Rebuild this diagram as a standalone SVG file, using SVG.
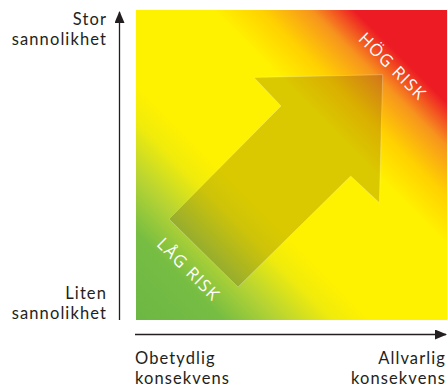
<svg xmlns="http://www.w3.org/2000/svg" width="448" height="387" viewBox="0 0 448 387">
<defs>
<style>
.lbl{font-family:Lato,"Open Sans","Liberation Sans",sans-serif;font-size:16.5px;fill:#231f20;letter-spacing:1.1px}
.risk{font-family:"Open Sans","Liberation Sans",sans-serif;font-size:17px;fill:#ffffff;letter-spacing:1.2px}
.axis{stroke:#231f20;stroke-width:1.3;fill:none}
</style>
<linearGradient id="bg" gradientUnits="userSpaceOnUse" x1="136" y1="320" x2="447" y2="10">
<stop offset="0" stop-color="#6cb744"/>
<stop offset="0.14" stop-color="#76bd43"/>
<stop offset="0.23" stop-color="#b5d334"/>
<stop offset="0.32" stop-color="#f0eb0c"/>
<stop offset="0.38" stop-color="#fff200"/>
<stop offset="0.62" stop-color="#fff200"/>
<stop offset="0.7" stop-color="#ffd100"/>
<stop offset="0.78" stop-color="#f7941d"/>
<stop offset="0.85" stop-color="#ed1c24"/>
<stop offset="1" stop-color="#ed1c24"/>
</linearGradient>
<marker id="ah" viewBox="0 0 12 10" refX="11" refY="5" markerWidth="12" markerHeight="10" markerUnits="userSpaceOnUse" orient="auto">
<path d="M0,0 L12,5 L0,10 Z" fill="#231f20"/>
</marker>
</defs>
<g id="field">
<rect x="136" y="10" width="311" height="310" fill="url(#bg)"/>
</g>
<g id="trend-arrow">
<polygon points="169,219 281,106 254,77.5 382.7,74.7 379.3,202.7 350.7,176 238,287" fill="#3a1800" fill-opacity="0.19" stroke="#ffffff" stroke-opacity="0.3" stroke-width="0.8"/>
</g>
<g id="hog-risk">
<text class="risk" x="393" y="66" text-anchor="middle" dominant-baseline="central" transform="rotate(45 393 66)">HÖG RISK</text>
</g>
<g id="lag-risk">
<text class="risk" x="189" y="269" text-anchor="middle" dominant-baseline="central" transform="rotate(45 189 269)">LÅG RISK</text>
</g>
<g id="connectors">
<line class="axis" x1="119.5" y1="320" x2="119.5" y2="12" marker-end="url(#ah)"/>
<line class="axis" x1="135" y1="334.5" x2="446" y2="334.5" marker-end="url(#ah)"/>
</g>
<g id="y-top">
<text class="lbl" text-anchor="end"><tspan x="107" y="25">Stor</tspan><tspan x="107" y="45">sannolikhet</tspan></text>
</g>
<g id="y-bottom">
<text class="lbl" text-anchor="end"><tspan x="107" y="298.5">Liten</tspan><tspan x="107" y="318.5">sannolikhet</tspan></text>
</g>
<g id="x-left">
<text class="lbl"><tspan x="135" y="363.5">Obetydlig</tspan><tspan x="135" y="383.5">konsekvens</tspan></text>
</g>
<g id="x-right">
<text class="lbl" text-anchor="end"><tspan x="446" y="363.5">Allvarlig</tspan><tspan x="446" y="383.5">konsekvens</tspan></text>
</g>
</svg>
